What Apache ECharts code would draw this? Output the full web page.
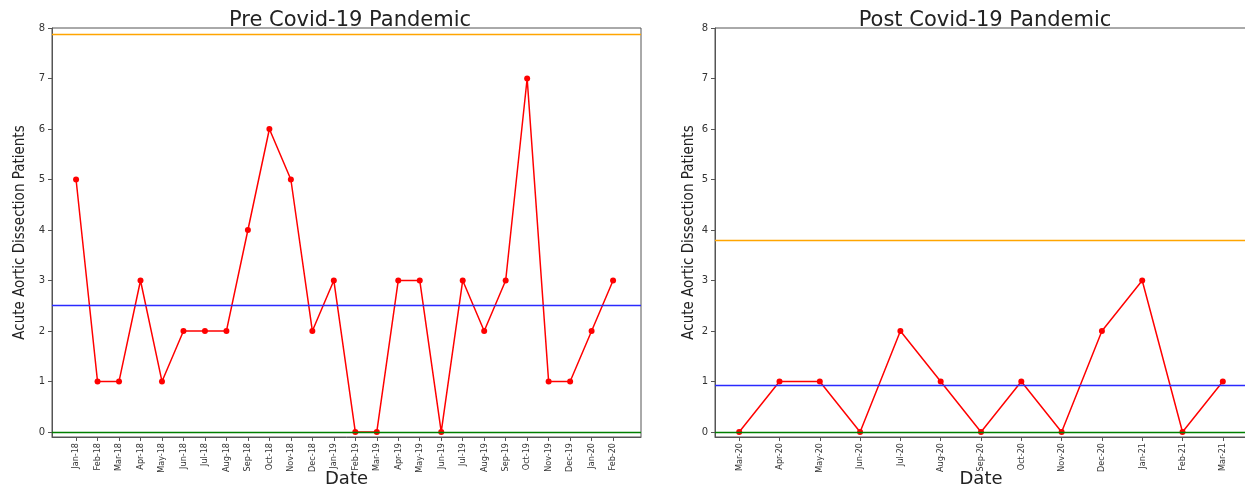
<!DOCTYPE html>
<html>
<head>
<meta charset="utf-8">
<script src="https://cdn.jsdelivr.net/npm/echarts@6/dist/echarts.min.js"></script>
<style>
  html, body { margin: 0; padding: 0; background: #fff; }
  #chart { width: 1245px; height: 487px; }
</style>
</head>
<body>
<div id="chart"></div>
<script>
// pre-pandemic months and monthly counts
const preMonths = ['Jan-18', 'Feb-18', 'Mar-18', 'Apr-18', 'May-18', 'Jun-18', 'Jul-18', 'Aug-18',
  'Sep-18', 'Oct-18', 'Nov-18', 'Dec-18', 'Jan-19', 'Feb-19', 'Mar-19', 'Apr-19', 'May-19',
  'Jun-19', 'Jul-19', 'Aug-19', 'Sep-19', 'Oct-19', 'Nov-19', 'Dec-19', 'Jan-20', 'Feb-20']
const preCounts = [5, 1, 1, 3, 1, 2, 2, 2, 4, 6, 5, 2, 3, 0, 0, 3, 3, 0, 3, 2, 3, 7, 1, 1, 2, 3]

// post-pandemic months and monthly counts
const postMonths = ['Mar-20', 'Apr-20', 'May-20', 'Jun-20', 'Jul-20', 'Aug-20', 'Sep-20',
  'Oct-20', 'Nov-20', 'Dec-20', 'Jan-21', 'Feb-21', 'Mar-21']
const postCounts = [0, 1, 1, 0, 2, 1, 0, 1, 0, 2, 3, 0, 1]

// control limits: [upper, mean, lower]
const preLimits = [7.88, 2.5, 0]
const postLimits = [3.8, 0.92, 0]
const limitColors = ['#ffa500', '#2a2aff', '#008000']

const yTicks = [0, 1, 2, 3, 4, 5, 6, 7, 8]

const condensed = "'DejaVu Sans Condensed', 'DejaVu Sans', sans-serif"
const sans = "'DejaVu Sans', sans-serif"

const chart = echarts.init(document.getElementById('chart'))

const makeX = (idx, months, min, max) => ({
  type: 'value',
  gridIndex: idx,
  min,
  max,
  name: 'Date',
  nameLocation: 'middle',
  nameGap: 33,
  nameMoveOverlap: false,
  nameTextStyle: { fontFamily: sans, fontSize: 18, color: '#222' },
  splitLine: { show: false },
  axisLine: { show: true, onZero: false, lineStyle: { color: '#555' } },
  axisTick: {
    show: true,
    length: 4,
    customValues: months.map((_, i) => i),
    lineStyle: { color: '#555' },
  },
  axisLabel: {
    customValues: months.map((_, i) => i),
    rotate: 90,
    fontFamily: condensed,
    fontSize: 9,
    color: '#333',
    margin: 6,
    formatter: (v) => months[Math.round(v)] || '',
  },
})

const makeY = (idx, gap) => ({
  type: 'value',
  gridIndex: idx,
  min: -0.1,
  max: 8,
  name: 'Acute Aortic Dissection Patients',
  nameLocation: 'middle',
  nameRotate: 90,
  nameGap: gap,
  nameMoveOverlap: false,
  nameTextStyle: { fontFamily: condensed, fontSize: 15, color: '#222' },
  splitLine: { show: false },
  axisLine: { show: true, onZero: false, lineStyle: { color: '#555' } },
  axisTick: { show: true, length: 4, customValues: yTicks, lineStyle: { color: '#555' } },
  axisLabel: {
    customValues: yTicks,
    fontFamily: sans,
    fontSize: 10,
    color: '#333',
    margin: 7,
  },
})

// one empty series per control limit, drawn as a full-width markLine
const limitSeries = (idx, limits) => limits.map((v, k) => ({
  type: 'line',
  xAxisIndex: idx,
  yAxisIndex: idx,
  data: [],
  color: limitColors[k],
  itemStyle: { color: limitColors[k] },
  lineStyle: { color: limitColors[k] },
  markLine: {
    silent: true,
    symbol: 'none',
    label: { show: false },
    itemStyle: { color: limitColors[k] },
    lineStyle: { color: limitColors[k], type: 'solid', width: 1.3, opacity: 1 },
    emphasis: { disabled: true },
    data: [{ yAxis: v }],
  },
  z: 2,
}))

const makeSeries = (idx, counts) => ({
  type: 'line',
  xAxisIndex: idx,
  yAxisIndex: idx,
  data: counts.map((v, i) => [i, v]),
  color: '#ff0000',
  lineStyle: { color: '#ff0000', width: 1.5 },
  symbol: 'circle',
  symbolSize: 6,
  itemStyle: { color: '#ff0000' },
  z: 3,
})

const option = {
  animation: false,
  backgroundColor: '#fff',
  title: [
    {
      text: 'Pre Covid-19 Pandemic',
      left: 345,
      top: 5,
      textAlign: 'center',
      textStyle: { fontFamily: sans, fontSize: 21, fontWeight: 'normal', color: '#222' },
    },
    {
      text: 'Post Covid-19 Pandemic',
      left: 980,
      top: 5,
      textAlign: 'center',
      textStyle: { fontFamily: sans, fontSize: 21, fontWeight: 'normal', color: '#222' },
    },
  ],
  grid: [
    { left: 52, top: 28, width: 589, height: 409, show: true, borderColor: '#555', borderWidth: 1, outerBoundsMode: 'none' },
    { left: 715, top: 28, width: 532, height: 409, show: true, borderColor: '#555', borderWidth: 1, outerBoundsMode: 'none' },
  ],
  xAxis: [
    makeX(0, preMonths, -1.12, 26.3),
    makeX(1, postMonths, -0.6, 12.6),
  ],
  yAxis: [
    makeY(0, 24),
    makeY(1, 18),
  ],
  series: [
    ...limitSeries(0, preLimits),
    ...limitSeries(1, postLimits),
    makeSeries(0, preCounts),
    makeSeries(1, postCounts),
  ],
}

chart.setOption(option)
window.addEventListener('resize', () => chart.resize())
</script>
</body>
</html>
